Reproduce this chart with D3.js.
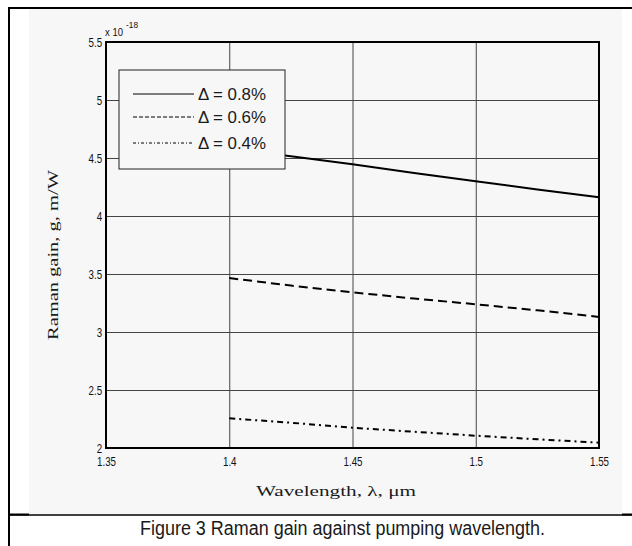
<!DOCTYPE html>
<html>
<head>
<meta charset="utf-8">
<script src="https://cdn.jsdelivr.net/npm/d3@7"></script>
<style>
  html, body { margin: 0; padding: 0; background: #fff; }
  svg { display: block; }
  .narrow { font-family: "Liberation Sans", Arial, sans-serif; }
  .serif { font-family: "Liberation Serif", "DejaVu Serif", serif; }
</style>
</head>
<body>
<div id="chart"></div>
<script>
// Data
const wavelengths = [1.4, 1.425, 1.45, 1.475, 1.5, 1.525, 1.55];
const gain08 = [4.58, 4.515, 4.446, 4.37, 4.30, 4.228, 4.161];
const gain06 = [3.465, 3.40, 3.342, 3.288, 3.239, 3.187, 3.13];
const gain04 = [2.256, 2.218, 2.175, 2.14, 2.106, 2.075, 2.046];
const seriesLabels = ["\u0394 = 0.8%", "\u0394 = 0.6%", "\u0394 = 0.4%"];
const xTicks = [1.35, 1.4, 1.45, 1.5, 1.55];
const xTickLabels = ["1.35", "1.4", "1.45", "1.5", "1.55"];
const yTicks = [2, 2.5, 3, 3.5, 4, 4.5, 5, 5.5];
const yTickLabels = ["2", "2.5", "3", "3.5", "4", "4.5", "5", "5.5"];

const W = 632, H = 546;
const plot = { left: 106, top: 42, right: 599, bottom: 448 };

const svg = d3.select("#chart").append("svg")
    .attr("width", W)
    .attr("height", H);

// Page frame and grey figure background
svg.append("rect")
    .attr("x", 29).attr("y", 9)
    .attr("width", 593).attr("height", 505)
    .attr("fill", "#f7f7f7");
svg.append("line").attr("x1", 8).attr("x2", 632).attr("y1", 8).attr("y2", 8)
    .attr("stroke", "#000").attr("stroke-width", 2);
svg.append("line").attr("x1", 9).attr("x2", 9).attr("y1", 7).attr("y2", H)
    .attr("stroke", "#000").attr("stroke-width", 2);
svg.append("line").attr("x1", 8).attr("x2", 632).attr("y1", 515).attr("y2", 515)
    .attr("stroke", "#000").attr("stroke-width", 1.5);
svg.append("line").attr("x1", 8).attr("x2", 29).attr("y1", 514.5).attr("y2", 514.5)
    .attr("stroke", "#000").attr("stroke-width", 2);
svg.append("line").attr("x1", 622).attr("x2", 632).attr("y1", 514.5).attr("y2", 514.5)
    .attr("stroke", "#000").attr("stroke-width", 2);

const x = d3.scaleLinear().domain([1.35, 1.55]).range([plot.left, plot.right]);
const y = d3.scaleLinear().domain([2, 5.5]).range([plot.bottom, plot.top]);
const ph = plot.bottom - plot.top;
const pw = plot.right - plot.left;

// Grid lines
const grid = svg.append("g");
grid.append("g")
    .attr("transform", `translate(0,${plot.bottom})`)
    .call(d3.axisBottom(x).tickValues(xTicks).tickSize(-ph).tickFormat(""))
    .call(g => g.select(".domain").remove())
    .call(g => g.selectAll("line").attr("stroke", "#444").attr("stroke-width", 1));
grid.append("g")
    .attr("transform", `translate(${plot.left},0)`)
    .call(d3.axisLeft(y).tickValues(yTicks).tickSize(-pw).tickFormat(""))
    .call(g => g.select(".domain").remove())
    .call(g => g.selectAll("line").attr("stroke", "#444").attr("stroke-width", 1));

// Tick labels (narrowed like the original's condensed face)
svg.append("g")
    .attr("class", "narrow")
    .attr("transform", `translate(0,${plot.bottom})`)
    .call(d3.axisBottom(x).tickValues(xTicks).tickSize(0).tickPadding(0)
        .tickFormat((d, i) => xTickLabels[i]))
    .call(g => g.select(".domain").remove())
    .call(g => g.selectAll("text")
        .attr("y", 18).attr("dy", 0)
        .attr("transform", "scale(0.78,1)")
        .attr("font-size", 12.5).attr("fill", "#111"));

svg.append("g")
    .attr("class", "narrow")
    .attr("transform", `translate(${plot.left},0)`)
    .call(d3.axisLeft(y).tickValues(yTicks).tickSize(0).tickPadding(0)
        .tickFormat((d, i) => yTickLabels[i]))
    .call(g => g.select(".domain").remove())
    .call(g => g.selectAll("text")
        .attr("x", -5).attr("dy", 4)
        .attr("transform", "scale(0.78,1)")
        .attr("font-size", 12.5).attr("fill", "#111"));

// Exponent label
const expo = svg.append("text").attr("class", "narrow").attr("fill", "#111");
expo.append("tspan").attr("x", 105).attr("y", 36).attr("font-size", 11)
    .attr("textLength", 18).attr("lengthAdjust", "spacingAndGlyphs").text("x 10");
expo.append("tspan").attr("x", 126).attr("y", 28).attr("font-size", 9)
    .attr("textLength", 12).attr("lengthAdjust", "spacingAndGlyphs").text("-18");

// Series lines
const line = d3.line()
    .x(d => x(d[0]))
    .y(d => y(d[1]));

const series = [
    { values: gain08, dash: null },
    { values: gain06, dash: "9,5" },
    { values: gain04, dash: "6,4,2,4" }
];

svg.append("g").selectAll("path")
    .data(series)
    .enter()
    .append("path")
    .attr("d", d => line(wavelengths.map((w, i) => [w, d.values[i]])))
    .attr("fill", "none")
    .attr("stroke", "#000")
    .attr("stroke-width", 2)
    .attr("stroke-dasharray", d => d.dash);

// Axes box
svg.append("rect")
    .attr("x", plot.left).attr("y", plot.top)
    .attr("width", pw).attr("height", ph)
    .attr("fill", "none")
    .attr("stroke", "#000")
    .attr("stroke-width", 2);

// Axis titles
svg.append("text")
    .attr("class", "serif")
    .attr("x", 256).attr("y", 496)
    .attr("font-size", 15)
    .attr("textLength", 160).attr("lengthAdjust", "spacingAndGlyphs")
    .attr("fill", "#1a1a1a")
    .text("Wavelength, \u03bb, \u03bcm");

svg.append("text")
    .attr("class", "serif")
    .attr("transform", "translate(58,255) rotate(-90)")
    .attr("text-anchor", "middle")
    .attr("font-size", 15)
    .attr("textLength", 170).attr("lengthAdjust", "spacingAndGlyphs")
    .attr("fill", "#1a1a1a")
    .text("Raman gain, g, m/W");

// Legend
const legend = svg.append("g").attr("transform", "translate(119,70)");
legend.append("rect")
    .attr("x", 0).attr("y", 0)
    .attr("width", 166).attr("height", 99)
    .attr("fill", "#f7f7f7")
    .attr("stroke", "#222")
    .attr("stroke-width", 1);

const legendDash = [null, "4,2", "3,2,1,2"];
const legendRows = legend.selectAll(".legend")
    .data(seriesLabels)
    .enter()
    .append("g")
    .attr("class", "legend")
    .attr("transform", (d, i) => `translate(0,${[24, 47, 73][i]})`);

legendRows.append("line")
    .attr("x1", 14).attr("x2", 75)
    .attr("y1", 0).attr("y2", 0)
    .attr("stroke", "#000")
    .attr("stroke-width", 1)
    .attr("stroke-dasharray", (d, i) => legendDash[i]);

legendRows.append("text")
    .attr("class", "narrow")
    .attr("x", 79).attr("y", 6)
    .attr("font-size", 17)
    .attr("textLength", 68).attr("lengthAdjust", "spacingAndGlyphs")
    .attr("fill", "#1a1a1a")
    .text(d => d);

// Caption
svg.append("text")
    .attr("class", "narrow")
    .attr("x", 140).attr("y", 535)
    .attr("font-size", 20)
    .attr("textLength", 405).attr("lengthAdjust", "spacingAndGlyphs")
    .attr("fill", "#1a1a1a")
    .text("Figure 3 Raman gain against pumping wavelength.");
</script>
</body>
</html>
